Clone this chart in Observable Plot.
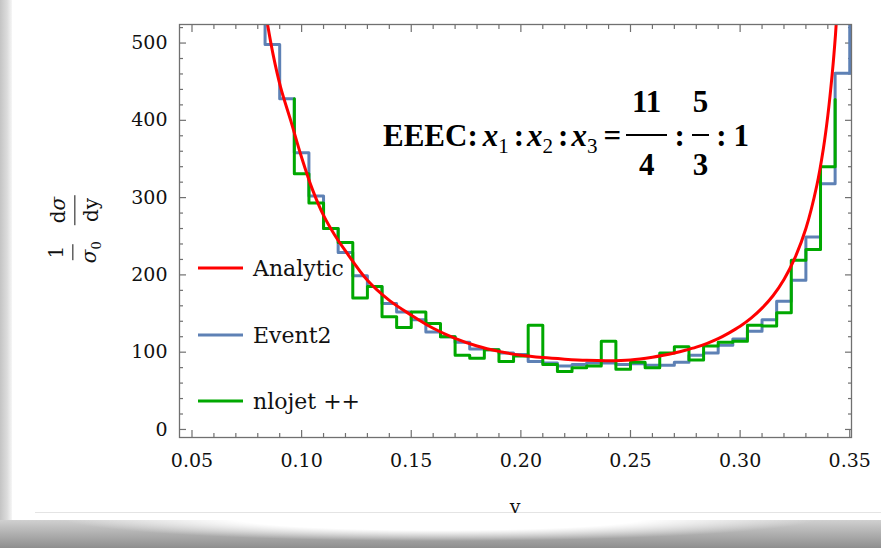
<!DOCTYPE html>
<html>
<head>
<meta charset="utf-8">
<script src="https://cdn.jsdelivr.net/npm/d3@7"></script>
<script src="https://cdn.jsdelivr.net/npm/@observablehq/plot@0.6"></script>
<style>
  body { margin: 0; background: #fff; }
  #wrap { position: relative; width: 881px; height: 548px; overflow: hidden; background: #fff; }
  #leftEdge { position: absolute; left: 0; top: 0; width: 12px; height: 522px;
    background: linear-gradient(to right, #c4c4c4, #dcdcdc 60%, #f6f6f6); }
  #bottomEdge { position: absolute; left: 0; top: 520px; width: 881px; height: 28px;
    background: linear-gradient(to bottom, #d0d0d0, #8e8e8e); }
  #bottomCurl { position: absolute; left: 60px; top: 505px; width: 760px; height: 40px;
    background: radial-gradient(ellipse 50% 60% at 50% 30%, #fff 55%, rgba(255,255,255,0) 100%); }
  #cardLine { position: absolute; left: 35px; top: 512px; width: 846px; height: 1px; background: #e4e4e4; }
  #chart { position: absolute; left: 0; top: 0; }
  .serif { font-family: "DejaVu Serif", serif; color: #111; }
  #ylab { position: absolute; left: 75px; top: 230px; transform: translate(-50%, -50%) rotate(-90deg);
    display: flex; align-items: center; gap: 14px; font-size: 20px; white-space: nowrap; }
  .frac { display: inline-flex; flex-direction: column; align-items: center; }
  .frac .num { padding: 0 2px 5px 2px; border-bottom: 1.3px solid #111; line-height: 1.1; }
  .frac .den { padding: 5px 2px 0 2px; line-height: 1.1; }
  #xlab { position: absolute; left: 515px; top: 495px; transform: translateX(-50%); font-size: 19px; }
  #legend { position: absolute; left: 198px; top: 0; font-size: 22px; }
  .item { position: absolute; left: 0; display: flex; align-items: center; white-space: nowrap; transform: translateY(-50%); }
  .swatch { width: 45px; height: 3px; margin-right: 10px; }
  #eq { position: absolute; left: 383px; top: 85px; display: block;
    font-family: "Liberation Serif", serif; font-weight: bold; font-size: 31px; color: #000;
    white-space: nowrap; line-height: 1.1; }
  #eq i { font-style: italic; }
  #eq sub { font-weight: normal; font-size: 21px; vertical-align: -7px; line-height: 0; margin-right: 2px; }
  #eq .frac { vertical-align: 34px; }
  #eq .frac .num { border-bottom: 2px solid #000; padding: 0 6px 15px 6px; line-height: 1.1; }
  #eq .frac .den { padding: 12px 6px 0 6px; line-height: 1.1; }
  #eq .frac.narrow .num, #eq .frac.narrow .den { padding-left: 1px; padding-right: 1px; }
  #eq .c { margin: 0 3px; }
  #eq .c2 { margin: 0 7px; }
  #eq .eqs { margin: 0 5px 0 4px; }
  #eq .gap { display: inline-block; width: 5px; }
</style>
</head>
<body>
<div id="wrap">
  <div id="leftEdge"></div>
  <div id="bottomEdge"></div>
  <div id="bottomCurl"></div>
  <div id="cardLine"></div>
  <div id="chart"></div>
  <div id="ylab" class="serif">
    <span class="frac"><span class="num">1</span><span class="den"><i>σ</i><sub style="font-size:13px">0</sub></span></span>
    <span class="frac"><span class="num">d<i>σ</i></span><span class="den">dy</span></span>
  </div>
  <div id="xlab" class="serif">v</div>
  <div id="legend" class="serif"></div>
  <div id="eq">EEEC:<span class="gap"></span><i>x</i><sub>1</sub><span class="c">:</span><i>x</i><sub>2</sub><span class="c">:</span><i>x</i><sub>3</sub><span class="eqs">=</span><span class="frac"><span class="num">11</span><span class="den">4</span></span><span class="c2">:</span><span class="frac narrow"><span class="num">5</span><span class="den">3</span></span><span class="c2">:</span>1</div>
</div>
<script>
// Histogram binning shared by both Monte Carlo samples
const binStart = 0.08333;
const binWidth = 1 / 150;

// Event2: 40 bins from v = 0.0833 to 0.35
const event2 = [498, 428, 358, 302, 260, 229, 199, 185, 163, 152,
                142, 126, 120, 113, 104, 103, 99, 97, 88, 86,
                82, 84, 86, 86, 84, 85, 83, 83, 87, 96,
                99, 109, 117, 127, 142, 166, 193, 249, 318, 461];
const event2Ends = [620, 620];      // neighbouring bins beyond the plotted range

// nlojet++: 37 bins starting at v = 0.0967
const nlojetStart = 0.09667;
const nlojet = [331, 293, 260, 242, 170, 185, 146, 132, 152, 137,
                120, 96, 92, 103, 88, 95, 135, 84, 75, 80,
                82, 114, 78, 87, 80, 99, 107, 90, 108, 113,
                114, 135, 134, 151, 219, 233, 340];
const nlojetEnds = [428, 427];

// Analytic prediction
const analyticV = [0.0835, 0.0870, 0.0904, 0.0950, 0.1000, 0.1050, 0.1100, 0.1150, 0.1200, 0.1300,
                   0.1400, 0.1500, 0.1600, 0.1700, 0.1800, 0.1900, 0.2000, 0.2100, 0.2200, 0.2300,
                   0.2400, 0.2500, 0.2600, 0.2650, 0.2700, 0.2750, 0.2800, 0.2850, 0.2900, 0.2950,
                   0.3000, 0.3050, 0.3100, 0.3150, 0.3200, 0.3250, 0.3300, 0.3350, 0.3380, 0.3400,
                   0.3420, 0.3435, 0.3450, 0.3465];
const analytic  = [540, 485, 443, 400, 352, 310, 277, 252, 231, 193,
                   167, 148, 131, 118, 108, 101, 96, 93, 91, 89.5,
                   89, 90, 93.5, 96, 99, 102.5, 106.5, 111.5, 117.5, 125,
                   133.5, 144, 157, 173, 194, 222, 260, 316, 364, 406,
                   460, 511, 575, 658];

const xTicks = [0.05, 0.10, 0.15, 0.20, 0.25, 0.30, 0.35];
const xTickLabels = ["0.05", "0.10", "0.15", "0.20", "0.25", "0.30", "0.35"];
const yTicks = [0, 100, 200, 300, 400, 500];
const yTickLabels = ["0", "100", "200", "300", "400", "500"];
const xMinor = d3.range(5, 36).map(d => d / 100).filter(d => !xTicks.some(t => Math.abs(t - d) < 1e-9));
const yMinor = d3.range(0, 521, 20).filter(d => d % 100 !== 0);

const seriesNames = ["Analytic", "Event2", "nlojet ++"];
const seriesColors = ["#ff0000", "#5e81b5", "#00a800"];

// Outline of a histogram as a single polyline
function outline(start, values, ends) {
  const pts = [{v: start, y: ends[0]}];
  values.forEach((val, i) => {
    pts.push({v: start + i * binWidth, y: val});
    pts.push({v: start + (i + 1) * binWidth, y: val});
  });
  pts.push({v: start + values.length * binWidth, y: ends[1]});
  return pts;
}

const event2Line = outline(binStart, event2, event2Ends);
const nlojetLine = outline(nlojetStart, nlojet, nlojetEnds);
const analyticLine = analyticV.map((v, i) => ({v, y: analytic[i]}));

const frameColor = "#707070";
const tickOpts = {stroke: frameColor, strokeWidth: 1.2, fill: "none"};

const chart = Plot.plot({
  width: 881,
  height: 520,
  marginLeft: 179,
  marginRight: 30,
  marginTop: 24,
  marginBottom: 83,
  style: {background: "transparent", fontFamily: "DejaVu Serif, serif", fontSize: "19px", color: "#111"},
  x: {domain: [0.0443, 0.3508], label: null},
  y: {domain: [-10.4, 524], label: null},
  marks: [
    // inward ticks on all four sides
    Plot.axisX(xTicks, {anchor: "bottom", tickSize: 7, dy: -7, ...tickOpts}),
    Plot.axisX(xMinor, {anchor: "bottom", tickSize: 4, dy: -4, ...tickOpts}),
    Plot.axisX(xTicks, {anchor: "top", tickSize: 7, dy: 7, ...tickOpts}),
    Plot.axisX(xMinor, {anchor: "top", tickSize: 4, dy: 4, ...tickOpts}),
    Plot.axisY(yTicks, {anchor: "left", tickSize: 7, dx: 7, ...tickOpts}),
    Plot.axisY(yMinor, {anchor: "left", tickSize: 4, dx: 4, ...tickOpts}),
    Plot.axisY(yTicks, {anchor: "right", tickSize: 7, dx: -7, ...tickOpts}),
    Plot.axisY(yMinor, {anchor: "right", tickSize: 4, dx: -4, ...tickOpts}),
    // tick labels
    Plot.axisX(xTicks, {anchor: "bottom", tickSize: 0, tickPadding: 16, stroke: "none",
      tickFormat: (d, i) => xTickLabels[i], fill: "#111"}),
    Plot.axisY(yTicks, {anchor: "left", tickSize: 0, tickPadding: 12, stroke: "none",
      tickFormat: (d, i) => yTickLabels[i], fill: "#111"}),
    Plot.line(event2Line, {x: "v", y: "y", stroke: seriesColors[1], strokeWidth: 3, clip: true}),
    Plot.line(nlojetLine, {x: "v", y: "y", stroke: seriesColors[2], strokeWidth: 3, clip: true}),
    Plot.line(analyticLine, {x: "v", y: "y", stroke: seriesColors[0], strokeWidth: 3, curve: "catmull-rom", clip: true}),
    Plot.frame({stroke: frameColor, strokeWidth: 1.3})
  ]
});
document.getElementById("chart").appendChild(chart);

// legend
const legendY = [268, 335, 401];
const legend = document.getElementById("legend");
seriesNames.forEach((name, i) => {
  const item = document.createElement("div");
  item.className = "item";
  item.style.top = legendY[i] + "px";
  const sw = document.createElement("span");
  sw.className = "swatch";
  sw.style.background = seriesColors[i];
  const label = document.createElement("span");
  label.textContent = name;
  item.append(sw, label);
  legend.appendChild(item);
});
</script>
</body>
</html>
